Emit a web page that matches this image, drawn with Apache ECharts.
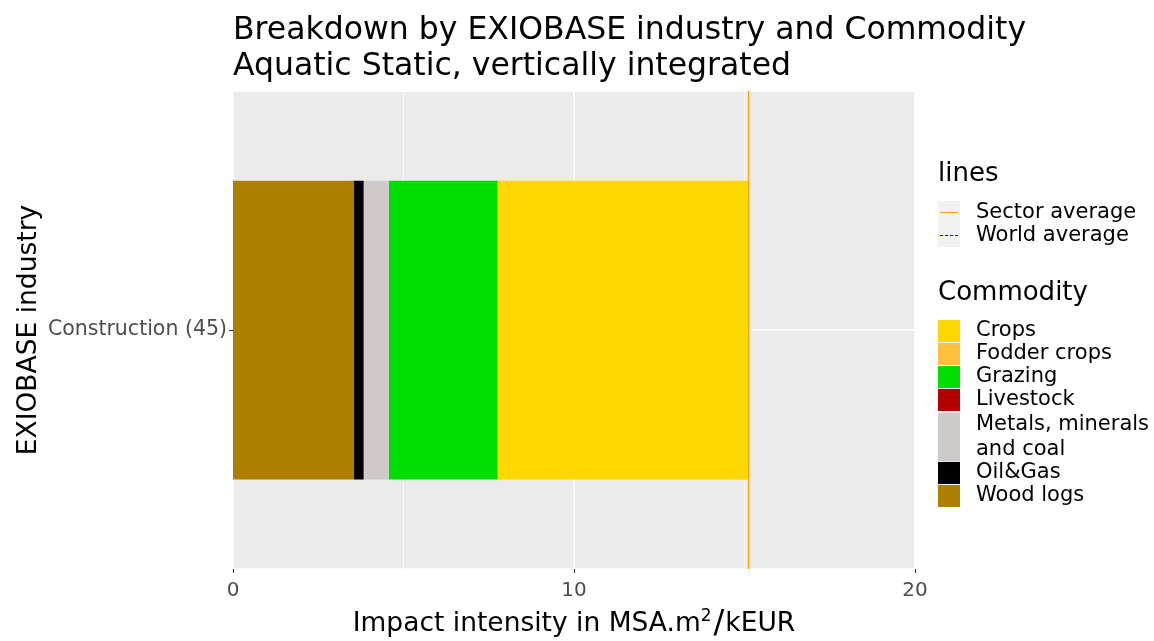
<!DOCTYPE html>
<html>
<head>
<meta charset="utf-8">
<script src="https://cdn.jsdelivr.net/npm/echarts@6/dist/echarts.min.js"></script>
<style>
  html, body { margin: 0; padding: 0; background: #fff; }
  #chart { width: 1154px; height: 641px; }
</style>
</head>
<body>
<div id="chart"></div>
<script>
// data
const industries = ['Construction (45)'];
const commodities = ['Crops', 'Fodder crops', 'Grazing', 'Livestock', 'Metals, minerals and coal', 'Oil&Gas', 'Wood logs'];
const crops = [7.33];
const fodderCrops = [0];
const grazing = [3.19];
const livestock = [0];
const metals = [0.74];
const oilGas = [0.285];
const woodLogs = [3.55];
const sectorAverage = [15.1];
const worldAverage = [];   // not visible in the panel
const lineNames = ['Sector average', 'World average'];
const xTicks = [0, 10, 20];

const values = {
  'Crops': crops,
  'Fodder crops': fodderCrops,
  'Grazing': grazing,
  'Livestock': livestock,
  'Metals, minerals and coal': metals,
  'Oil&Gas': oilGas,
  'Wood logs': woodLogs
};
const colors = {
  'Crops': '#FFD700',
  'Fodder crops': '#FFC13B',
  'Grazing': '#00DD00',
  'Livestock': '#B30000',
  'Metals, minerals and coal': '#CDCAC9',
  'Oil&Gas': '#000000',
  'Wood logs': '#AF7F00'
};
const SECTOR_COLOR = '#FFA500';
const WORLD_COLOR = '#0000FF';

const FONT = '"DejaVu Sans", "Liberation Sans", Arial, sans-serif';
const LEG_TEXT = { fontFamily: FONT, fontSize: 21, color: '#000', lineHeight: 22, padding: [0, 0, 0, 11] };

// ggplot stacks the first level on the right, so draw in reverse
const barSeries = commodities.slice().reverse().map(name => ({
  name: name,
  type: 'bar',
  stack: 'total',
  barWidth: '62.5%',
  data: values[name],
  itemStyle: { color: colors[name] },
  emphasis: { disabled: true }
}));

// the legend is split in three so that the two-line "Metals" key can be taller
function commodityLegend(names, top, itemHeight, extra) {
  return Object.assign({
    data: names.map(n => ({ name: n, icon: 'rect' })),
    orient: 'vertical',
    left: 938, top: top,
    itemWidth: 22, itemHeight: itemHeight, itemGap: 1,
    padding: 0,
    selectedMode: false,
    textStyle: LEG_TEXT
  }, extra || {});
}

// "lines" keys: grey key box, a short sample line and the label
const lineKeys = [];
lineKeys.push({ type: 'rect', left: 938, top: 201, shape: { width: 22, height: 46 }, style: { fill: '#F2F2F2' }, z: 1 });
lineNames.forEach((name, i) => {
  const y = 212.5 + i * 23;
  lineKeys.push({
    type: 'line', z: 2,
    shape: { x1: 940, y1: y, x2: 958, y2: y },
    style: {
      stroke: i === 0 ? SECTOR_COLOR : WORLD_COLOR,
      lineWidth: 1.2,
      lineDash: i === 0 ? null : [3, 2]
    }
  });
  lineKeys.push({
    type: 'text', z: 2,
    style: { text: name, x: 976, y: y, verticalAlign: 'middle', fill: '#000', font: '21px ' + FONT }
  });
});

const chart = echarts.init(document.getElementById('chart'), null, { renderer: 'canvas' });

chart.setOption({
  animation: false,
  textStyle: { fontFamily: FONT },
  title: [
    {
      text: 'Breakdown by EXIOBASE industry and Commodity\nAquatic Static, vertically integrated',
      left: 228, top: 8,
      textStyle: { fontFamily: FONT, fontSize: 31.5, fontWeight: 'normal', color: '#000', lineHeight: 36 }
    },
    {
      text: 'lines', left: 933, top: 156,
      textStyle: { fontFamily: FONT, fontSize: 26, fontWeight: 'normal', color: '#000' }
    },
    {
      text: 'Commodity', left: 933, top: 275,
      textStyle: { fontFamily: FONT, fontSize: 26, fontWeight: 'normal', color: '#000' }
    }
  ],
  graphic: lineKeys,
  legend: [
    commodityLegend(['Crops', 'Fodder crops', 'Grazing', 'Livestock'], 320, 22),
    commodityLegend(['Metals, minerals and coal'], 412, 49, {
      formatter: () => '{m|Metals, minerals}\n{m|and coal}',
      textStyle: Object.assign({}, LEG_TEXT, {
        rich: { m: { fontFamily: FONT, fontSize: 21, color: '#000', lineHeight: 25 } }
      })
    }),
    commodityLegend(['Oil&Gas', 'Wood logs'], 462, 22)
  ],
  grid: {
    left: 233, right: 239, top: 91, bottom: 72,
    show: true, backgroundColor: '#EBEBEB', borderWidth: 0,
    containLabel: false,
    outerBoundsMode: 'none'
  },
  xAxis: {
    type: 'value',
    min: xTicks[0], max: xTicks[xTicks.length - 1], interval: 10,
    name: 'Impact intensity in MSA.m{sup|2}{sl|/}kEUR',
    nameLocation: 'middle',
    nameGap: 39,
    nameTextStyle: {
      fontFamily: FONT, fontSize: 26.5, color: '#000',
      rich: {
        sup: { fontFamily: FONT, fontSize: 17, color: '#000', verticalAlign: 'bottom', padding: [0, 0, 15, 0] },
        sl: { fontFamily: FONT, fontSize: 32, color: '#000', padding: [0, 1, 0, 2] }
      }
    },
    axisLine: { show: false },
    axisTick: { show: true, length: 4, lineStyle: { color: '#333', width: 1 } },
    axisLabel: { color: '#4D4D4D', fontSize: 20, fontFamily: FONT, margin: 12 },
    splitLine: { show: true, lineStyle: { color: '#FFFFFF', width: 1.5 } },
    minorTick: { show: false, splitNumber: 2 },
    minorSplitLine: { show: true, lineStyle: { color: '#FFFFFF', width: 0.7 } }
  },
  yAxis: [
    {
      type: 'category',
      data: industries,
      name: 'EXIOBASE industry',
      nameLocation: 'middle',
      nameRotate: 90,
      nameGap: 190,
      nameMoveOverlap: false,
      nameTextStyle: { fontFamily: FONT, fontSize: 26.5, color: '#000' },
      axisLine: { show: false },
      axisTick: { show: true, length: 4, alignWithLabel: true, lineStyle: { color: '#333', width: 1 } },
      axisLabel: { color: '#4D4D4D', fontSize: 20.5, fontFamily: FONT, margin: 6 },
      splitLine: { show: false }
    },
    {
      // helper axis for the horizontal grid line through the category centre
      type: 'value', min: 0, max: 2, interval: 1,
      show: true, position: 'left',
      axisLine: { show: false }, axisTick: { show: false }, axisLabel: { show: false },
      splitLine: { show: true, lineStyle: { color: '#FFFFFF', width: 1.5 } }
    }
  ],
  series: barSeries.concat([
    {
      name: lineNames[0],
      type: 'line',
      symbol: 'none',
      data: [],
      lineStyle: { color: SECTOR_COLOR, width: 1.2 },
      itemStyle: { color: SECTOR_COLOR },
      markLine: {
        silent: true,
        symbol: 'none',
        label: { show: false },
        lineStyle: { color: SECTOR_COLOR, width: 1.2, type: 'solid' },
        data: sectorAverage.map(v => ({ xAxis: v }))
      },
      z: 5
    },
    {
      name: lineNames[1],
      type: 'line',
      symbol: 'none',
      data: worldAverage,
      lineStyle: { color: WORLD_COLOR, width: 1.2, type: [2, 2] },
      itemStyle: { color: WORLD_COLOR }
    }
  ])
});
</script>
</body>
</html>
